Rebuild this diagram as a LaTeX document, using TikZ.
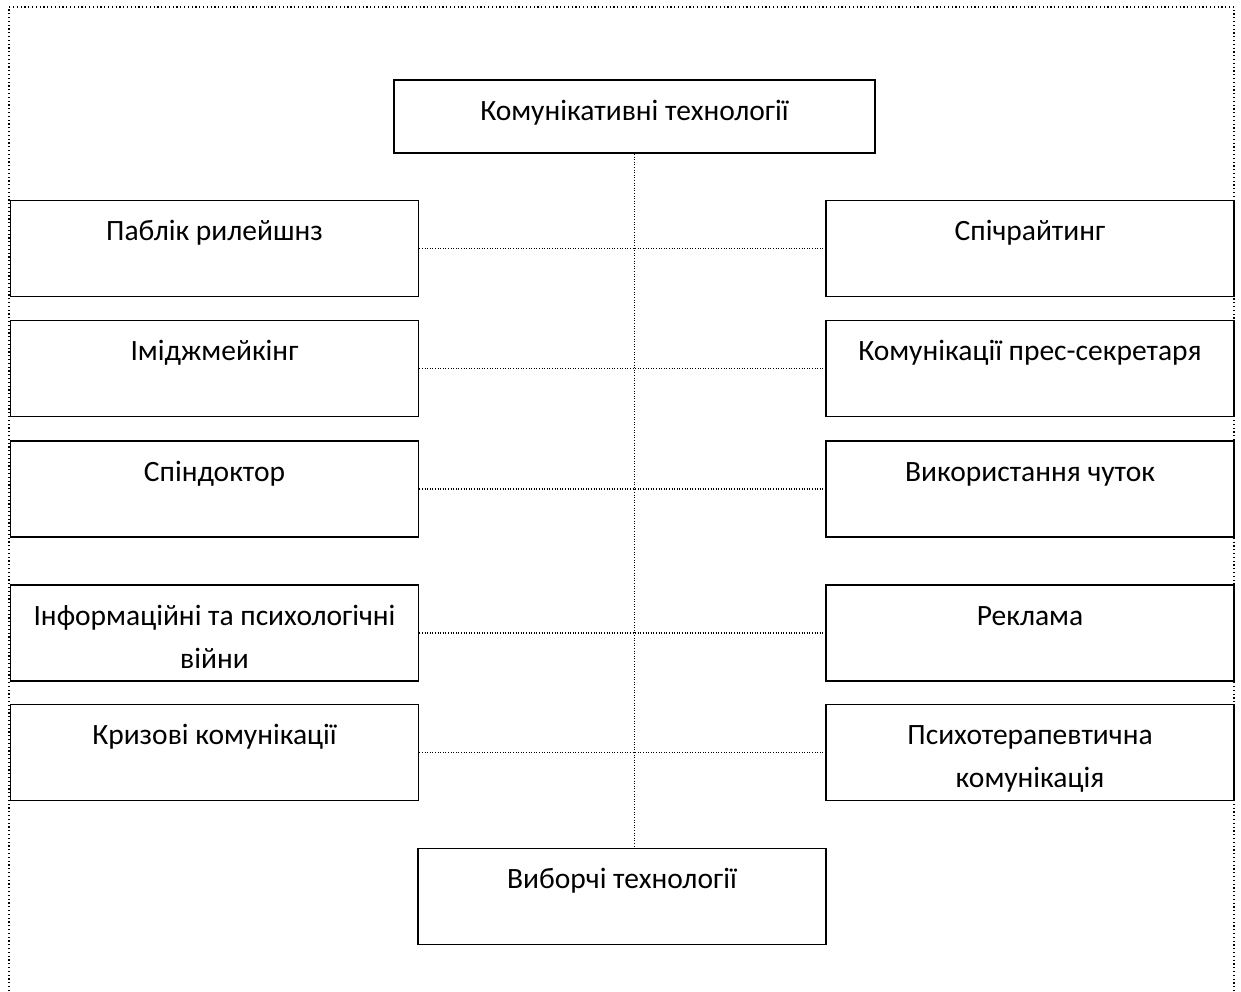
\documentclass[tikz,border=0pt]{standalone}
\usepackage{fontspec}
\setmainfont{Carlito}
\begin{document}
\begin{tikzpicture}[x=1pt,y=-1pt,
  box/.style={draw=black,line width=1.8pt,rectangle,inner sep=0pt},
  lbl/.style={anchor=base,align=center,inner sep=0pt,font=\fontsize{29.5}{43}\selectfont},
  link/.style={line width=1.1pt,dash pattern=on 1pt off 1.6pt},
  frame/.style={line width=1.1pt,dash pattern=on 1.2pt off 2.6pt}]
\useasboundingbox (0,0) rectangle (1241,991);
\draw[frame] (9,991) -- (9,7) -- (1234,7) -- (1234,991);
% boxes
\node[box,minimum width=481,minimum height=73] (top) at (634.5,116.5) {};
\node[box,minimum width=408,minimum height=96] (l1) at (214.5,248.5) {};
\node[box,minimum width=408,minimum height=96] (l2) at (214.5,368.5) {};
\node[box,minimum width=408,minimum height=96] (l3) at (214.5,489) {};
\node[box,minimum width=408,minimum height=96] (l4) at (214.5,633) {};
\node[box,minimum width=408,minimum height=96] (l5) at (214.5,752.5) {};
\node[box,minimum width=408,minimum height=96] (r1) at (1030,248.5) {};
\node[box,minimum width=408,minimum height=96] (r2) at (1030,368.5) {};
\node[box,minimum width=408,minimum height=96] (r3) at (1030,489) {};
\node[box,minimum width=408,minimum height=96] (r4) at (1030,633) {};
\node[box,minimum width=408,minimum height=96] (r5) at (1030,752.5) {};
\node[box,minimum width=408,minimum height=96] (bot) at (622,896.5) {};
% labels
\node[lbl] (ttop) at ([yshift=-41]top.north) {Комунікативні технології};
\node[lbl] (tl1) at ([yshift=-41]l1.north) {Паблік рилейшнз};
\node[lbl] (tl2) at ([yshift=-41]l2.north) {Іміджмейкінг};
\node[lbl] (tl3) at ([yshift=-41]l3.north) {Спіндоктор};
\node[lbl] (tl4) at ([yshift=-84]l4.north) {Інформаційні та психологічні\\війни};
\node[lbl] (tl5) at ([yshift=-41]l5.north) {Кризові комунікації};
\node[lbl] (tr1) at ([yshift=-41]r1.north) {Спічрайтинг};
\node[lbl] (tr2) at ([yshift=-41]r2.north) {Комунікації прес-секретаря};
\node[lbl] (tr3) at ([yshift=-41]r3.north) {Використання чуток};
\node[lbl] (tr4) at ([yshift=-41]r4.north) {Реклама};
\node[lbl] (tr5) at ([yshift=-84]r5.north) {Психотерапевтична\\комунікація};
\node[lbl] (tbot) at ([yshift=-41]bot.north) {Виборчі технології};
% connectors
\draw[link] (top.south) -- (top.south |- bot.north);
\draw[link] (l1.east) -- (r1.west);
\draw[link] (l2.east) -- (r2.west);
\draw[link] (l3.east) -- (r3.west);
\draw[link] (l4.east) -- (r4.west);
\draw[link] (l5.east) -- (r5.west);
\end{tikzpicture}
\end{document}
